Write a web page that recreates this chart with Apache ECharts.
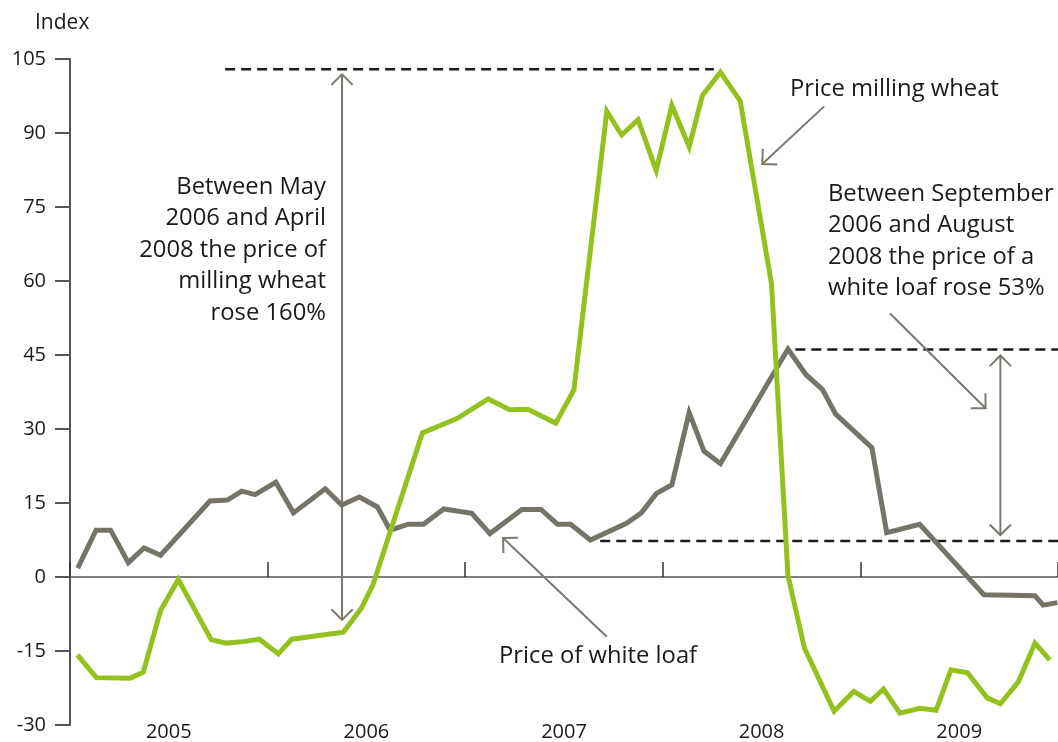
<!DOCTYPE html>
<html>
<head>
<meta charset="utf-8">
<script src="https://cdn.jsdelivr.net/npm/echarts@6/dist/echarts.min.js"></script>
<style>
html,body{margin:0;padding:0;background:#fff}
#main{width:1058px;height:742px}
</style>
</head>
<body>
<div id="main"></div>
<script>
// x values are months counted from January 2005
var years = ['2005', '2006', '2007', '2008', '2009'];
var yearMid = [6, 18, 30, 42, 54];

var loafMonths = [0.47, 1.58, 2.47, 3.54, 4.5, 5.5, 8.5, 9.56, 10.43, 11.24, 12.5, 13.57, 15.5, 16.5, 17.57, 18.67,
  19.44, 20.55, 21.47, 22.7, 24.4, 25.5, 27.44, 28.6, 29.6, 30.4, 31.6, 33.8, 34.7, 35.6, 36.55, 37.6, 38.5, 39.5,
  43.6, 44.7, 45.7, 46.5, 48.7, 49.6, 51.6, 55.5, 58.6, 59.1, 59.96];
var loafIndex = [1.8, 9.5, 9.5, 2.9, 5.9, 4.4, 15.4, 15.6, 17.4, 16.7, 19.2, 13.0, 17.9, 14.6, 16.2, 14.2,
  9.5, 10.7, 10.7, 13.8, 12.9, 8.8, 13.7, 13.7, 10.7, 10.7, 7.5, 10.9, 13.0, 16.9, 18.7, 33.3, 25.5, 23.0,
  46.2, 41.0, 38.0, 33.0, 26.2, 9.0, 10.7, -3.6, -3.8, -5.7, -5.2];

var wheatMonths = [0.45, 1.6, 3.65, 4.45, 5.5, 6.58, 8.57, 9.5, 10.5, 11.5, 12.65, 13.47, 16.6, 17.7, 18.4,
  21.4, 23.5, 25.4, 26.7, 27.8, 29.5, 30.6, 32.6, 33.5, 34.5, 35.6, 36.55, 37.6, 38.4, 39.5, 40.7, 42.6,
  43.6, 44.6, 46.4, 47.6, 48.6, 49.4, 50.4, 51.6, 52.6, 53.5, 54.5, 55.7, 56.5, 57.6, 58.6, 59.5];
var wheatIndex = [-15.8, -20.4, -20.5, -19.3, -6.8, -0.5, -12.7, -13.4, -13.1, -12.6, -15.6, -12.6, -11.2, -6.3, -1.6,
  29.2, 32.1, 36.1, 33.9, 34.0, 31.2, 37.9, 94.4, 89.6, 92.7, 82.4, 95.6, 87.2, 97.6, 102.3, 96.5, 59.5,
  0.3, -14.4, -27.2, -23.2, -25.2, -22.7, -27.6, -26.6, -27.0, -18.8, -19.4, -24.5, -25.7, -21.2, -13.4, -16.8];

var green = '#95c11f', grey = '#767368', arrowCol = '#7b786e', ink = '#1a1a1a';
var font = '"Open Sans", "DejaVu Sans", sans-serif';

function pairs(xs, ys) {
  return xs.map(function (x, i) { return [x, ys[i]]; });
}

var chart = echarts.init(document.getElementById('main'));

var option = {
  animation: false,
  grid: { left: 70, right: 0, top: 59, bottom: 13 },
  xAxis: [{
    type: 'value', min: 0, max: 60, interval: 12, position: 'bottom',
    axisLine: { onZero: true, lineStyle: { color: '#555', width: 1.5 } },
    axisTick: { inside: true, length: 15, lineStyle: { color: '#333', width: 1.5 } },
    axisLabel: { show: false },
    splitLine: { show: false }
  }, {
    type: 'value', min: 0, max: 60, position: 'bottom',
    axisLine: { show: false, onZero: false },
    axisTick: { show: false },
    axisLabel: {
      customValues: yearMid, margin: -3, fontSize: 20, color: ink, fontFamily: font,
      formatter: function (v) { return years[yearMid.indexOf(v)]; }
    },
    splitLine: { show: false }
  }],
  yAxis: {
    type: 'value', min: -30, max: 105, interval: 15,
    axisLine: { show: true, lineStyle: { color: '#555', width: 2 } },
    axisTick: { show: true, length: 15, lineStyle: { color: '#555', width: 2 } },
    axisLabel: { margin: 24, fontSize: 20, color: ink, fontFamily: font },
    splitLine: { show: false }
  },
  series: [{
    name: 'Price of white loaf', type: 'line', xAxisIndex: 0,
    data: pairs(loafMonths, loafIndex),
    symbol: 'none', lineStyle: { color: grey, width: 5, join: 'miter' }, z: 3
  }, {
    name: 'Price milling wheat', type: 'line', xAxisIndex: 0,
    data: pairs(wheatMonths, wheatIndex),
    symbol: 'none', lineStyle: { color: green, width: 5, join: 'miter' }, z: 4
  }]
};
chart.setOption(option);

function px(m, v) { return chart.convertToPixel({ seriesIndex: 0 }, [m, v]); }

function dashed(x1, x2, v) {
  var a = px(x1, v), b = px(x2, v);
  return { type: 'line', z: 1, shape: { x1: a[0], y1: a[1], x2: b[0], y2: b[1] },
    style: { stroke: ink, lineWidth: 2.5, lineDash: [10, 6] } };
}

function head(tip, tail) {
  var dx = tip[0] - tail[0], dy = tip[1] - tail[1], len = Math.sqrt(dx * dx + dy * dy);
  var bx = -dx / len, by = -dy / len, L = 15, c = Math.SQRT1_2;
  var l = [tip[0] + L * (bx * c - by * c), tip[1] + L * (bx * c + by * c)];
  var r = [tip[0] + L * (bx * c + by * c), tip[1] + L * (-bx * c + by * c)];
  return { type: 'polyline', z: 2, shape: { points: [l, tip, r] },
    style: { stroke: arrowCol, lineWidth: 2, fill: null } };
}

function arrow(from, to, both) {
  var a = px(from[0], from[1]), b = px(to[0], to[1]);
  var out = [{ type: 'line', z: 2, shape: { x1: a[0], y1: a[1], x2: b[0], y2: b[1] },
    style: { stroke: arrowCol, lineWidth: 2 } }, head(b, a)];
  if (both) out.push(head(a, b));
  return out;
}

function label(text, x, y, align) {
  return { type: 'text', z: 5, x: x, y: y,
    style: { text: text, fill: ink, font: '23.8px ' + font, textAlign: align || 'left',
      textVerticalAlign: 'top', lineHeight: 31.5 } };
}

var g = [
  dashed(9.42, 39.1, 102.9),
  dashed(44.05, 60, 46.1),
  dashed(32.2, 60, 7.3)
];
g = g.concat(arrow([16.52, -8.7], [16.52, 101.9], true));
g = g.concat(arrow([56.5, 8.5], [56.5, 44.9], true));
g = g.concat(arrow([45.8, 95.4], [42.04, 83.7]));
g = g.concat(arrow([32.6, -12.1], [26.3, 7.9]));
g = g.concat(arrow([49.8, 53.4], [55.6, 34.2]));
g.push(label('Between May\n2006 and April\n2008 the price of\nmilling wheat\nrose 160%', 326, 171, 'right'));
g.push(label('Between September\n2006 and August\n2008 the price of a\nwhite loaf rose 53%', 828, 178));
g.push(label('Price milling wheat', 790, 73));
g.push(label('Price of white loaf', 499, 640));
g.push({ type: 'text', x: 35, y: 13, style: { text: 'Index', fill: ink, font: '21px ' + font } });

chart.setOption({ graphic: g });
</script>
</body>
</html>
